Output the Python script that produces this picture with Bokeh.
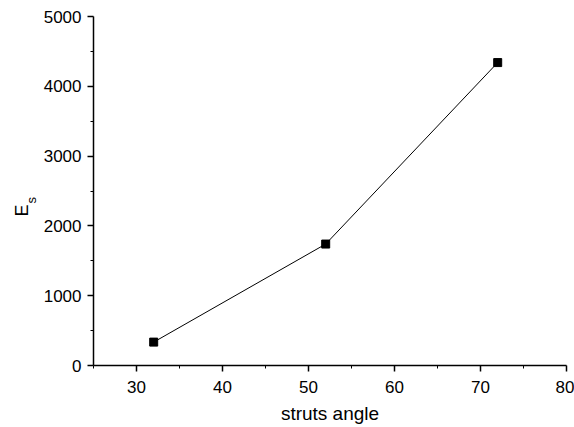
from bokeh.plotting import figure
from bokeh.models import Range1d, FixedTicker, Title
from bokeh.embed import file_html
from bokeh.resources import INLINE

angles = [32, 52, 72]
es_values = [335, 1740, 4340]
x_ticks = [30, 40, 50, 60, 70, 80]
y_ticks = [0, 1000, 2000, 3000, 4000, 5000]

FONT = "Liberation Sans"

p = figure(frame_width=473, frame_height=349, output_backend="svg", toolbar_location=None,
           x_range=Range1d(25, 80), y_range=Range1d(0, 5000),
           min_border_left=93, min_border_right=8, min_border_top=16, min_border_bottom=40)
p.background_fill_color = "white"
p.border_fill_color = "white"
p.outline_line_color = None
p.xgrid.visible = False
p.ygrid.visible = False

p.line(angles, es_values, line_color="black", line_width=1)
p.scatter(angles, es_values, marker="square", size=8, fill_color="black", line_color="black")

for ax in (p.xaxis[0], p.yaxis[0]):
    ax.axis_line_color = "black"
    ax.axis_line_width = 1.5
    ax.major_tick_line_color = "black"
    ax.major_tick_line_width = 1.5
    ax.minor_tick_line_color = "black"
    ax.minor_tick_line_width = 1
    ax.major_tick_in = 0
    ax.major_tick_out = 6
    ax.minor_tick_in = 0
    ax.minor_tick_out = 3
    ax.major_label_text_font = FONT
    ax.major_label_text_font_size = "17px"
    ax.major_label_text_color = "black"
    ax.axis_label_text_font = FONT
    ax.axis_label_text_font_style = "normal"
    ax.axis_label_text_font_size = "19px"
    ax.axis_label_text_color = "black"

p.xaxis.ticker = FixedTicker(ticks=x_ticks, minor_ticks=[25, 35, 45, 55, 65, 75])
p.yaxis.ticker = FixedTicker(ticks=y_ticks, minor_ticks=[500, 1500, 2500, 3500, 4500])
p.xaxis.major_label_standoff = 9
p.yaxis.major_label_standoff = 6
p.xaxis.axis_label = "struts angle"
p.xaxis.axis_label_standoff = 7

# y-axis label "E" with subscript "s" as two side titles (s closer to the axis)
title_s = Title(text="s", align="left", offset=162, standoff=4, text_font=FONT,
                text_font_size="13px", text_font_style="normal", text_color="black")
title_e = Title(text="E", align="left", offset=149, standoff=-24, text_font=FONT,
                text_font_size="18px", text_font_style="normal", text_color="black")
p.left = [p.yaxis[0], title_s, title_e]

open("out.html", "w").write(file_html(p, INLINE))
